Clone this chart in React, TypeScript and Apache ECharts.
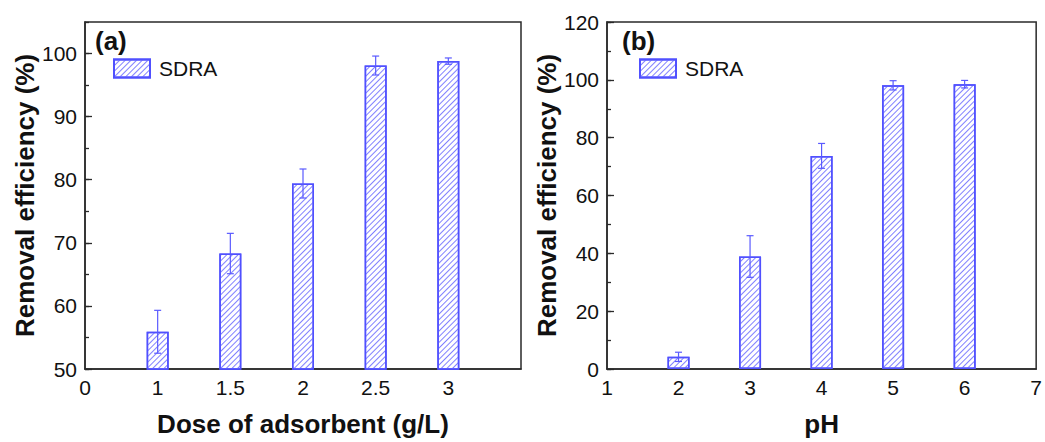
import React, { useEffect, useRef } from 'react';
import * as echarts from 'echarts';

// Panel (a): dose of adsorbent
const doseLabels = ['0', '1', '1.5', '2', '2.5', '3', ''];
const doseEff: (number | null)[] = [null, 55.9, 68.3, 79.4, 98.1, 98.8, null];
const doseErr: (number | null)[] = [null, 3.4, 3.2, 2.3, 1.5, 0.5, null];

// Panel (b): pH
const phValues = [2, 3, 4, 5, 6];
const phEff = [4.2, 38.9, 73.7, 98.1, 98.5];
const phErr = [1.6, 7.2, 4.3, 1.6, 1.3];

const FONT = '"Liberation Sans", Arial, sans-serif';
const BLUE = '#5050ff';
const HATCH = '#8080ff';
const AXIS = '#2a2a2a';

const hatch = {
  symbol: 'rect',
  symbolSize: 1,
  dashArrayX: [1, 0],
  dashArrayY: [1, 2.4],
  rotation: -Math.PI / 4,
  color: HATCH,
  backgroundColor: '#ffffff',
};

const errRender = (params: any, api: any) => {
  const x = api.value(0);
  const v = api.value(1);
  const e = api.value(2);
  const t = api.coord([x, v + e]);
  const b = api.coord([x, v - e]);
  const hw = 3.5;
  const style = { stroke: '#5a5aff', lineWidth: 1.2, fill: 'none' };
  return {
    type: 'group',
    children: [
      { type: 'line', shape: { x1: t[0], y1: t[1], x2: b[0], y2: b[1] }, style },
      { type: 'line', shape: { x1: t[0] - hw, y1: t[1], x2: t[0] + hw, y2: t[1] }, style },
      { type: 'line', shape: { x1: b[0] - hw, y1: b[1], x2: b[0] + hw, y2: b[1] }, style },
    ],
  };
};

export default function App() {
  const ref = useRef<HTMLDivElement>(null);
  useEffect(() => {
    if (!ref.current) return;
    const chart = echarts.init(ref.current, undefined, { renderer: 'svg' });

    const tickLabel = { color: '#111', fontSize: 21, fontFamily: FONT };
    const axisName = { color: '#111', fontSize: 26, fontWeight: 'bold' as const, fontFamily: FONT };
    const axisLine = { show: true, lineStyle: { color: AXIS, width: 1.5 } };
    const legendBase = {
      top: 58,
      padding: 0,
      data: [{ name: 'SDRA', icon: 'rect' }],
      itemWidth: 36,
      itemHeight: 18,
      selectedMode: false,
      textStyle: { color: '#111', fontSize: 21, fontFamily: FONT, padding: [0, 0, 0, 4] },
    };

    const doseErrData = doseEff
      .map((v, i) => (v == null ? null : [i, v, doseErr[i]]))
      .filter((d) => d != null);
    const phBarData = phValues.map((x, i) => [x, phEff[i]]);
    const phErrData = phValues.map((x, i) => [x, phEff[i], phErr[i]]);

    chart.setOption({
      animation: false,
      grid: [
        { left: 85, top: 22, width: 436, height: 352, show: true, borderColor: AXIS, borderWidth: 1.5 },
        { left: 607, top: 22, width: 435, height: 352, show: true, borderColor: AXIS, borderWidth: 1.5 },
      ],
      xAxis: [
        {
          type: 'category',
          gridIndex: 0,
          data: doseLabels,
          boundaryGap: false,
          axisLine,
          axisTick: { show: false },
          axisLabel: { ...tickLabel, margin: 8, interval: 0 },
          splitLine: { show: false },
          name: 'Dose of adsorbent (g/L)',
          nameLocation: 'middle',
          nameGap: 42,
          nameTextStyle: axisName,
        },
        {
          type: 'value',
          gridIndex: 1,
          min: 1,
          max: 7,
          interval: 1,
          axisLine,
          axisTick: { show: false },
          axisLabel: { ...tickLabel, margin: 8 },
          splitLine: { show: false },
          name: 'pH',
          nameLocation: 'middle',
          nameGap: 42,
          nameTextStyle: axisName,
        },
      ],
      yAxis: [
        {
          type: 'value',
          gridIndex: 0,
          min: 50,
          max: 105,
          interval: 10,
          axisLine,
          axisTick: { show: true, inside: true, length: 7, lineStyle: { color: AXIS, width: 1.3 } },
          axisLabel: { ...tickLabel, margin: 8, showMaxLabel: false },
          splitLine: { show: false },
          name: 'Removal efficiency (%)',
          nameLocation: 'middle',
          nameGap: 46,
          nameTextStyle: axisName,
        },
        {
          type: 'value',
          gridIndex: 0,
          position: 'left',
          min: 50,
          max: 105,
          interval: 5,
          axisLine: { show: false },
          axisTick: { show: true, inside: true, length: 4, lineStyle: { color: AXIS, width: 1.3 } },
          axisLabel: { show: false },
          splitLine: { show: false },
        },
        {
          type: 'value',
          gridIndex: 1,
          min: 0,
          max: 120,
          interval: 20,
          axisLine,
          axisTick: { show: true, inside: true, length: 7, lineStyle: { color: AXIS, width: 1.3 } },
          axisLabel: { ...tickLabel, margin: 8 },
          splitLine: { show: false },
          name: 'Removal efficiency (%)',
          nameLocation: 'middle',
          nameGap: 46,
          nameTextStyle: axisName,
        },
        {
          type: 'value',
          gridIndex: 1,
          position: 'left',
          min: 0,
          max: 120,
          interval: 10,
          axisLine: { show: false },
          axisTick: { show: true, inside: true, length: 4, lineStyle: { color: AXIS, width: 1.3 } },
          axisLabel: { show: false },
          splitLine: { show: false },
        },
      ],
      legend: [
        { ...legendBase, left: 113 },
        { ...legendBase, left: 639 },
      ],
      graphic: [
        { type: 'text', left: 95, top: 28, style: { text: '(a)', font: `bold 26px ${FONT}`, fill: '#111' } },
        { type: 'text', left: 622, top: 28, style: { text: '(b)', font: `bold 26px ${FONT}`, fill: '#111' } },
      ],
      series: [
        {
          type: 'bar',
          name: 'SDRA',
          xAxisIndex: 0,
          yAxisIndex: 0,
          data: doseEff,
          barWidth: 22,
          clip: true,
          itemStyle: { color: '#ffffff', borderColor: BLUE, borderWidth: 1.5, decal: hatch },
        },
        {
          type: 'custom',
          name: 'errA',
          xAxisIndex: 0,
          yAxisIndex: 0,
          data: doseErrData,
          renderItem: errRender,
          z: 5,
        },
        {
          type: 'bar',
          name: 'SDRA',
          xAxisIndex: 1,
          yAxisIndex: 2,
          data: phBarData,
          barWidth: 22,
          clip: true,
          itemStyle: { color: '#ffffff', borderColor: BLUE, borderWidth: 1.5, decal: hatch },
        },
        {
          type: 'custom',
          name: 'errB',
          xAxisIndex: 1,
          yAxisIndex: 2,
          data: phErrData,
          renderItem: errRender,
          z: 5,
        },
      ],
    });
    return () => chart.dispose();
  }, []);
  return (
    <div
      ref={ref}
      style={{ position: 'absolute', left: 0, top: 0, width: 1045, height: 442, background: '#fff' }}
    />
  );
}
